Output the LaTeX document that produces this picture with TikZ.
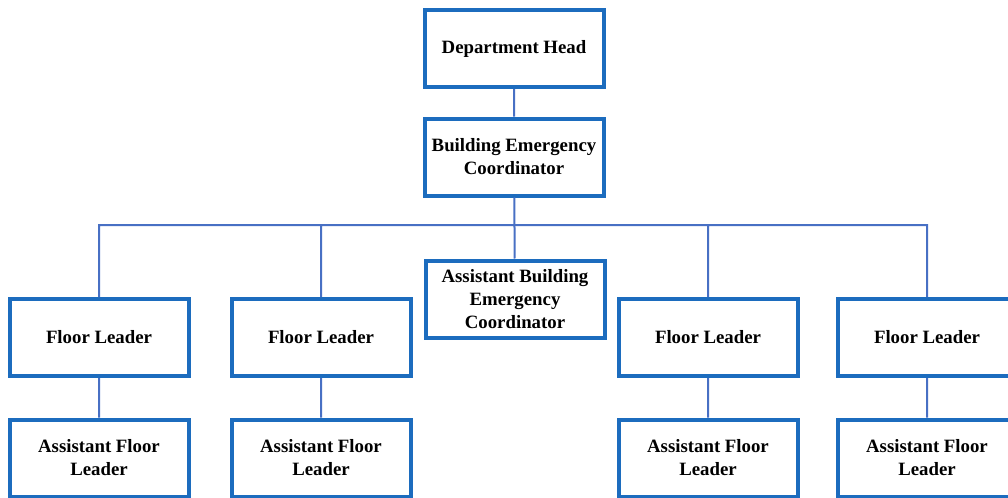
\documentclass[tikz,border=0pt]{standalone}
\usepackage{fontspec}
\setmainfont{Liberation Serif}
\definecolor{boxblue}{RGB}{28,108,190}
\definecolor{lineblue}{RGB}{72,112,196}
\tikzset{
  {unit/.style} ={draw=boxblue, line width=2pt, fill=white,
                  minimum width=89.5pt, minimum height=38.5pt,
                  align=center, inner sep=1pt,
                  font=\bfseries\fontsize{9.4}{11.5}\selectfont},
  {link/.style} ={draw=lineblue, line width=1pt},
}
\begin{document}
\begin{tikzpicture}[x=0.5pt,y=-0.5pt]
\useasboundingbox (0,0) rectangle (1008,498);
% top of the chart
\node[unit] (head) at (514,48.5) {Department Head};
\node[unit] (bec) at (514,157) {Building Emergency\\Coordinator};
\coordinate (bus) at (514,225);
\node[unit] (abec) at (515,299) {Assistant Building\\Emergency\\Coordinator};
% floor leaders
\node[unit] (fl1) at (99,337.5) {Floor Leader};
\node[unit] (fl2) at (321,337.5) {Floor Leader};
\node[unit] (fl3) at (708,337.5) {Floor Leader};
\node[unit] (fl4) at (927,337.5) {Floor Leader};
% assistants
\node[unit] (afl1) at (99,458) {Assistant Floor\\Leader};
\node[unit] (afl2) at (321,458) {Assistant Floor\\Leader};
\node[unit] (afl3) at (708,458) {Assistant Floor\\Leader};
\node[unit] (afl4) at (927,458) {Assistant Floor\\Leader};
\begin{scope}[on background layer/.try]
\path[link] (head) -- (bec)
            (bec) -- (abec)
            (fl1.north) |- (bus) -| (fl4.north)
            (fl2.north) |- (bus)
            (fl3.north) |- (bus)
            (fl1) -- (afl1)
            (fl2) -- (afl2)
            (fl3) -- (afl3)
            (fl4) -- (afl4);
\end{scope}
\end{tikzpicture}
\end{document}
